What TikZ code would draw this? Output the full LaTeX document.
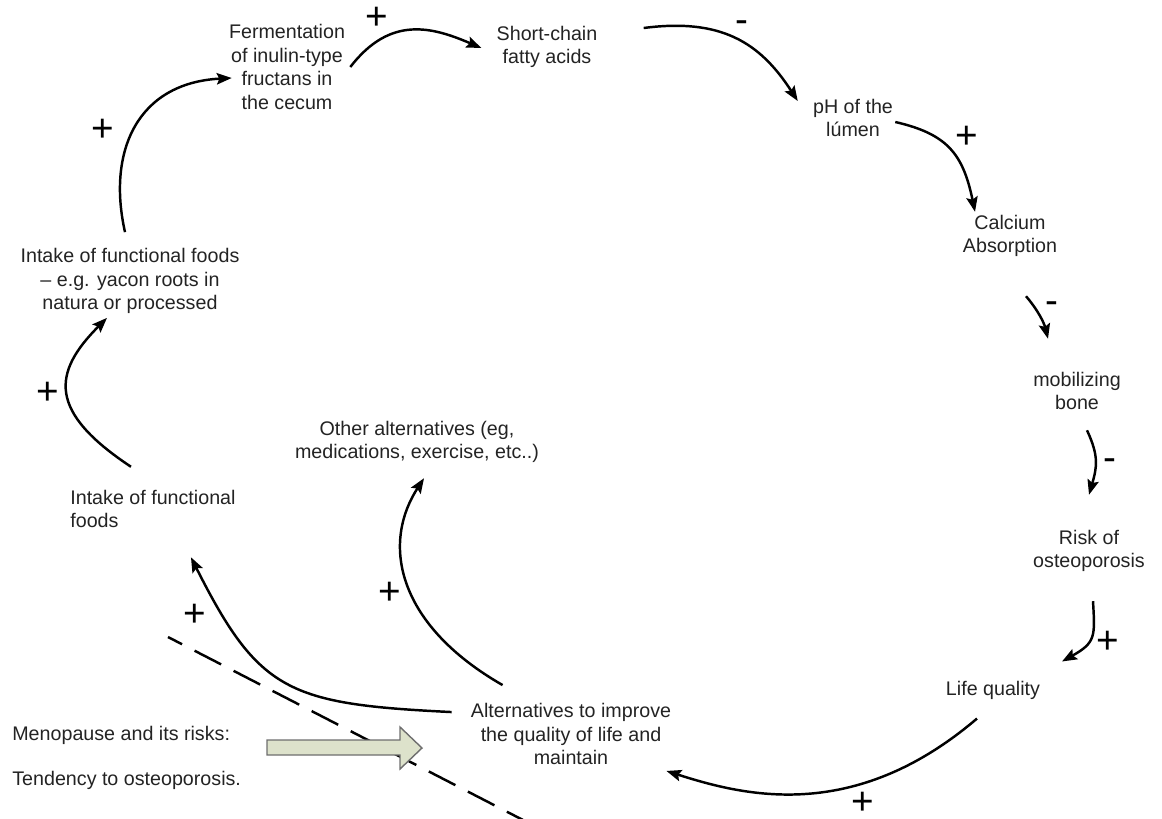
\documentclass[tikz,border=0pt]{standalone}
\usepackage{fontspec}
\setmainfont{Liberation Sans}
\usetikzlibrary{arrows.meta}

\definecolor{sage}{RGB}{221,226,203}
\definecolor{edgegray}{RGB}{110,110,110}
\definecolor{txtgray}{RGB}{35,35,35}

\tikzset{
  factor/.style={align=center, inner sep=0pt, text=txtgray,
    font=\fontsize{11.2}{13.3}\selectfont},
  link/.style={-{Stealth[length=8.5pt,width=6.5pt,inset=1.5pt]}, line width=1.4pt},
  sign/.style={inner sep=0pt, font=\fontsize{22}{22}\selectfont},
  boundary/.style={line width=1.4pt, dash pattern=on 17pt off 8pt, dash phase=8pt},
}

\begin{document}
\begin{tikzpicture}[x=0.02cm, y=-0.02cm]
\useasboundingbox (0,0) rectangle (1162,818);

% the loop
\node[factor] (ferm) at (287,67) {Fermentation\\of inulin-type\\fructans in\\the cecum};
\node[factor] (scfa) at (547,47) {Short-chain\\fatty acids};
\node[factor] (ph) at (853,118) {pH of the\\lúmen};
\node[factor] (calc) at (1010,236) {Calcium\\Absorption};
\node[factor] (mob) at (1077,391) {mobilizing\\bone};
\node[factor] (risk) at (1089,551) {Risk of\\osteoporosis};
\node[factor] (lq) at (993,690) {Life quality};
\node[factor] (alt) at (571,734) {Alternatives to improve\\the quality of life and\\maintain};
\node[factor] (other) at (417,442) {Other alternatives (eg,\\medications, exercise, etc..)};
\node[factor, align=left, anchor=west] (intake) at (70,509) {Intake of functional\\foods};
\node[factor] (yacon) at (130,281) {Intake of functional foods\\– e.g. yacon roots in\\natura or processed};

% outside
\node[factor, anchor=west] (meno) at (12,735) {Menopause and its risks:};
\node[factor, anchor=west] (tend) at (12,780) {Tendency to osteoporosis.};

\draw[boundary] (168,637) -- (523,820);
\draw[fill=sage, draw=edgegray, line width=0.8pt]
  (267,740) -- (400,740) -- (400,727) -- (422,748) -- (400,769) -- (400,755) -- (267,755) -- cycle;

% links
\draw[link] ([shift={(-22,-23)}]intake.north) .. controls +(-83,-55) and +(-55,55) .. ([shift={(-23,4)}]yacon.south);
\draw[link] ([shift={(-5,-16)}]yacon.north) .. controls +(-18,-80) and +(-95,5) .. ([shift={(3,11)}]ferm.west);
\draw[link] ([shift={(5,0)}]ferm.east) .. controls +(40,-52) and +(-49,-21) .. ([shift={(-15,1)}]scfa.west);
\draw[link] ([shift={(46,-19)}]scfa.east) .. controls +(77,-10) and +(-38,-59) .. ([shift={(-15,-17)}]ph.west);
\draw[link] ([shift={(2,4)}]ph.east) .. controls +(52,12) and +(-12,-58) .. ([shift={(-35,-3)}]calc.north);
\draw[link] ([shift={(16,39)}]calc.south) .. controls +(12,14) and +(-4,-16) .. ([shift={(-29,-33)}]mob.north);
\draw[link] ([shift={(10,20)}]mob.south) .. controls +(12,26) and +(8,-28) .. ([shift={(0,-35)}]risk.north);
\draw[link] ([shift={(4,29)}]risk.south) .. controls +(2,35) and +(34,-19) .. ([shift={(69,-19)}]lq.north);
\draw[link] ([shift={(-16,19)}]lq.south) .. controls +(-123,105) and +(78,25) .. ([shift={(-5,6)}]alt.south east);
\draw[link] ([shift={(32,-18)}]alt.north west) .. controls +(-103,-59) and +(-44,68) .. ([shift={(7,15)}]other.south);
\draw[link] ([shift={(-19,9)}]alt.north west) .. controls +(-163,-8) and +(68,135) .. ([shift={(38,29)}]intake.south);

% signs
\node[sign] (s1) at (48,393) {+};
\node[sign] (s2) at (103,130) {+};
\node[sign] (s3) at (377,18) {+};
\node[sign] (s4) at (742,27) {-};
\node[sign] (s5) at (967,137) {+};
\node[sign] (s6) at (1052,308) {-};
\node[sign] (s7) at (1110,465) {-};
\node[sign] (s8) at (1108,642) {+};
\node[sign] (s9) at (863,803) {+};
\node[sign] (s10) at (390,593) {+};
\node[sign] (s11) at (195,615) {+};

\end{tikzpicture}
\end{document}
